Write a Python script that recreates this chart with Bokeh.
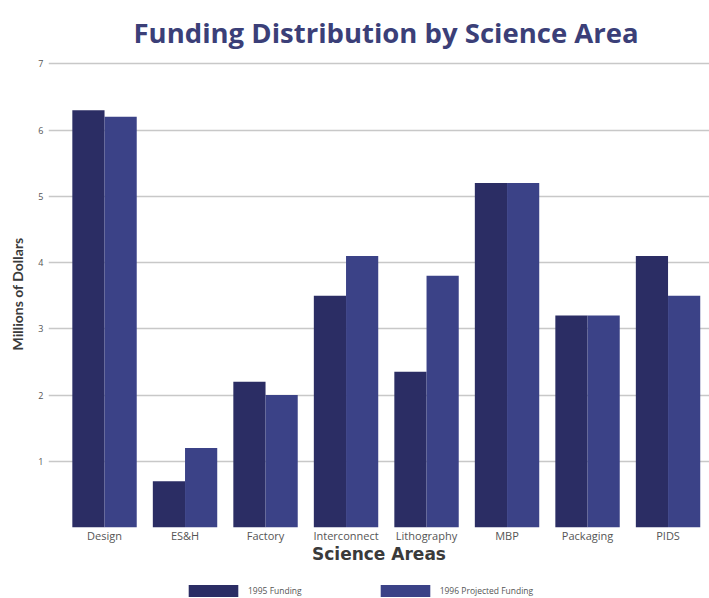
from bokeh.plotting import figure
from bokeh.layouts import column
from bokeh.models import ColumnDataSource, Range1d, FixedTicker, Legend, LegendItem, Title
from bokeh.transform import dodge
from bokeh.embed import file_html
from bokeh.resources import INLINE

categories = ["Design", "ES&H", "Factory", "Interconnect", "Lithography", "MBP", "Packaging", "PIDS"]
funding_1995 = [6.3, 0.7, 2.2, 3.5, 2.35, 5.2, 3.2, 4.1]
funding_1996 = [6.2, 1.2, 2.0, 4.1, 3.8, 5.2, 3.2, 3.5]
series_names = ["1995 Funding", "1996 Projected Funding"]
y_ticks = [1, 2, 3, 4, 5, 6, 7]

positions = list(range(len(categories)))
src = ColumnDataSource(dict(x=positions, cat=categories, f95=funding_1995, f96=funding_1996))

C95 = "#2b2d64"
C96 = "#3b4287"

p = figure(width=709, height=566, x_range=Range1d(-0.696, 7.515), y_range=Range1d(0, 7.05),
           output_backend="svg", toolbar_location=None,
           min_border_left=48, min_border_right=0, min_border_top=60, min_border_bottom=39)
p.outline_line_color = None
p.background_fill_color = "white"
p.border_fill_color = "white"

r95 = p.vbar(x=dodge("x", -0.2), top="f95", width=0.4, source=src,
             fill_color=C95, line_color=None)
r96 = p.vbar(x=dodge("x", 0.2), top="f96", width=0.4, source=src,
             fill_color=C96, line_color=None)

title = Title(text="Funding Distribution by Science Area", align="left",
              text_font="Open Sans", text_font_size="27.5px", text_font_style="bold",
              text_color="#3b3f78", standoff=20, offset=85)
p.add_layout(title, "above")

# x axis
p.xaxis.ticker = FixedTicker(ticks=positions)
p.xaxis.major_label_overrides = {i: c for i, c in zip(positions, categories)}
p.xaxis.axis_line_color = None
p.xaxis.major_tick_line_color = None
p.xaxis.major_tick_out = 0
p.xaxis.major_tick_in = 0
p.xaxis.minor_tick_line_color = None
p.xaxis.major_label_standoff = 0
p.xaxis.major_label_text_font = "Open Sans"
p.xaxis.major_label_text_font_size = "11px"
p.xaxis.major_label_text_color = "#555555"
p.xaxis.axis_label = "Science Areas"
p.xaxis.axis_label_text_font = "DejaVu Sans"
p.xaxis.axis_label_text_font_size = "17px"
p.xaxis.axis_label_text_font_style = "bold"
p.xaxis.axis_label_text_color = "#3a3a3a"
p.xaxis.axis_label_standoff = -2
p.xgrid.grid_line_color = None

# y axis
p.yaxis.ticker = FixedTicker(ticks=y_ticks)
p.yaxis.axis_line_color = None
p.yaxis.major_tick_line_color = None
p.yaxis.major_tick_out = 0
p.yaxis.major_tick_in = 0
p.yaxis.minor_tick_line_color = None
p.yaxis.major_label_standoff = 5
p.yaxis.major_label_text_font = "Open Sans"
p.yaxis.major_label_text_font_size = "9px"
p.yaxis.major_label_text_color = "#555555"
p.yaxis.axis_label = "Millions of Dollars"
p.yaxis.axis_label_text_font = "Lato"
p.yaxis.axis_label_text_font_size = "14px"
p.yaxis.axis_label_text_font_style = "bold"
p.yaxis.axis_label_text_color = "#3a3a3a"
p.yaxis.axis_label_standoff = 9
p.ygrid.ticker = FixedTicker(ticks=y_ticks)
p.ygrid.grid_line_color = "#c8c8c8"
p.ygrid.grid_line_width = 1.5

# legend strip below the chart (same data, drawn off-view; only the legend is seen)
leg = figure(width=709, height=32, x_range=Range1d(0, 709), y_range=Range1d(1000, 1001),
             output_backend="svg", toolbar_location=None,
             min_border_left=0, min_border_right=0, min_border_top=0, min_border_bottom=0)
leg.axis.visible = False
leg.grid.visible = False
leg.outline_line_color = None
leg.border_fill_color = "white"
l95 = leg.vbar(x="x", top="f95", width=0.4, source=src, fill_color=C95, line_color=None)
l96 = leg.vbar(x="x", top="f96", width=0.4, source=src, fill_color=C96, line_color=None)

legend = Legend(items=[LegendItem(label=series_names[0], renderers=[l95]),
                       LegendItem(label=series_names[1], renderers=[l96])],
                orientation="horizontal", location=(134, 0),
                glyph_width=62, glyph_height=15, label_standoff=4, spacing=72,
                label_text_font="Open Sans", label_text_font_size="8.5px",
                label_text_color="#555555", border_line_color=None,
                background_fill_alpha=0, padding=0, margin=0)
leg.add_layout(legend, "center")

layout = column(p, leg, spacing=0)
open("out.html", "w").write(file_html(layout, INLINE))
